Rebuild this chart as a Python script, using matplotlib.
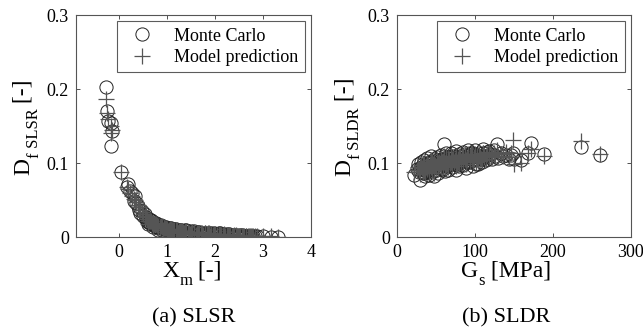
import matplotlib
matplotlib.use("Agg")
import matplotlib.pyplot as plt

plt.rcParams['font.family'] = ['Liberation Serif', 'DejaVu Serif']

# ---- (a) SLSR ----
xm = [-0.27, -0.25, -0.23, -0.17, -0.15, -0.17, 0.04, 0.17, 0.19, 0.22, 0.27, 0.30, 0.33,
      0.36, 0.40, 0.42, 0.44, 0.47, 0.50, 0.53, 0.55, 0.58, 0.62, 0.65, 0.68, 0.72, 0.75,
      0.78, 0.82, 0.86, 0.90, 0.95, 1.00, 1.05, 1.10, 1.15, 1.20, 1.26, 1.32, 1.38, 1.44,
      1.50, 1.57, 1.64, 1.71, 1.78, 1.85, 1.92, 2.00, 2.08, 2.16, 2.24, 2.32, 2.40, 2.48,
      2.56, 2.64, 2.72, 2.80, 2.88, 3.00, 3.17, 3.31,
      0.60, 0.70, 0.80, 0.92, 1.02, 1.12, 1.22, 1.35, 1.47, 1.60, 1.75, 1.90, 2.05, 2.20,
      2.35, 2.50, 2.65, 2.78,
      0.56, 0.61, 0.66, 0.71, 0.76, 0.81, 0.87, 0.93, 0.98, 1.03, 1.08, 1.13, 1.18, 1.24,
      1.29, 1.34, 1.40, 1.46, 1.52, 1.55, 1.62, 1.67, 1.73, 1.80, 1.83, 1.88, 1.95, 1.98,
      2.03, 2.11, 2.13, 2.19, 2.27, 2.29, 2.37, 2.43, 2.45, 2.52, 2.58, 2.61, 2.68, 2.70,
      2.75, 2.83]
mc_slsr = [0.203, 0.170, 0.157, 0.154, 0.143, 0.123, 0.088, 0.067, 0.071, 0.062, 0.059, 0.049, 0.055,
           0.046, 0.042, 0.037, 0.033, 0.035, 0.029, 0.031, 0.025, 0.022, 0.024, 0.019, 0.021, 0.017, 0.015,
           0.018, 0.013, 0.015, 0.012, 0.014, 0.010, 0.012, 0.009, 0.011, 0.008, 0.010, 0.007, 0.009, 0.006,
           0.008, 0.005, 0.007, 0.005, 0.006, 0.004, 0.005, 0.004, 0.005, 0.003, 0.004, 0.003, 0.003, 0.002,
           0.003, 0.002, 0.002, 0.001, 0.001, 0.001, 0.000, 0.000,
           0.018, 0.013, 0.010, 0.008, 0.007, 0.006, 0.005, 0.004, 0.003, 0.003, 0.002, 0.002, 0.002, 0.001,
           0.001, 0.001, 0.001, 0.000,
           0.027, 0.020, 0.023, 0.016, 0.019, 0.012, 0.016, 0.011, 0.013, 0.009, 0.012, 0.008, 0.011, 0.007,
           0.009, 0.006, 0.009, 0.005, 0.007, 0.008, 0.004, 0.007, 0.004, 0.006, 0.003, 0.006, 0.003, 0.005,
           0.002, 0.005, 0.002, 0.004, 0.002, 0.004, 0.001, 0.003, 0.002, 0.003, 0.001, 0.002, 0.001, 0.002,
           0.001, 0.001]
model_slsr = [0.186, 0.168, 0.160, 0.150, 0.144, 0.140, 0.088, 0.068, 0.065, 0.060, 0.056, 0.052, 0.050,
              0.047, 0.043, 0.040, 0.037, 0.034, 0.031, 0.029, 0.027, 0.025, 0.022, 0.021, 0.019, 0.018, 0.017,
              0.016, 0.015, 0.014, 0.013, 0.012, 0.011, 0.011, 0.010, 0.009, 0.009, 0.008, 0.008, 0.007, 0.007,
              0.006, 0.006, 0.006, 0.005, 0.005, 0.005, 0.004, 0.004, 0.004, 0.003, 0.003, 0.003, 0.003, 0.002,
              0.002, 0.002, 0.002, 0.002, 0.001, 0.001, 0.001, 0.000,
              0.017, 0.014, 0.012, 0.010, 0.008, 0.007, 0.006, 0.005, 0.004, 0.003, 0.003, 0.002, 0.002, 0.001,
              0.001, 0.001, 0.001, 0.001,
              0.028, 0.022, 0.021, 0.018, 0.017, 0.013, 0.015, 0.012, 0.012, 0.010, 0.011, 0.009, 0.010, 0.008,
              0.008, 0.007, 0.008, 0.006, 0.007, 0.007, 0.005, 0.006, 0.005, 0.006, 0.004, 0.005, 0.003, 0.004,
              0.003, 0.004, 0.003, 0.004, 0.003, 0.003, 0.002, 0.003, 0.002, 0.002, 0.002, 0.002, 0.001, 0.002,
              0.001, 0.001]

# ---- (b) SLDR ----
gs = [22, 25, 27, 28, 30, 31, 32, 33, 34, 35, 36, 37, 38, 39, 40, 41, 42, 43, 44, 45, 46, 47, 48, 49,
      50, 51, 52, 53, 54, 55, 56, 57, 58, 59, 60, 61, 62, 63, 64, 65, 66, 67, 68, 69, 70, 71, 72, 73,
      74, 75, 76, 77, 78, 79, 80, 82, 84, 85, 87, 88, 90, 91, 93, 94, 96, 97, 99, 100, 102, 104, 105,
      107, 109, 110, 112, 114, 116, 118, 120, 122, 124, 126, 128, 130, 133, 136, 140, 143, 146, 149,
      150, 159, 168, 172, 188, 236, 260,
      29, 33, 36, 39, 42, 45, 48, 51, 54, 57, 60, 63, 66, 69, 72, 75, 78, 81, 84, 87, 90, 93, 96,
      99, 102, 106, 110, 114, 118, 35, 41, 47, 53, 59, 65, 71, 77, 83, 89, 95, 101, 108]
mc_sldr = [0.084, 0.092, 0.098, 0.088, 0.077, 0.101, 0.094, 0.086, 0.104, 0.091, 0.082, 0.097, 0.107,
           0.089, 0.095, 0.084, 0.102, 0.093, 0.109, 0.088, 0.099, 0.083, 0.105, 0.096, 0.091, 0.108,
           0.100, 0.087, 0.103, 0.095, 0.111, 0.092, 0.099, 0.106, 0.126, 0.089, 0.101, 0.113, 0.096,
           0.104, 0.090, 0.108, 0.098, 0.114, 0.102, 0.094, 0.110, 0.099, 0.105, 0.091, 0.116, 0.101,
           0.107, 0.096, 0.112, 0.103, 0.097, 0.115, 0.106, 0.093, 0.109, 0.118, 0.101, 0.112, 0.104,
           0.096, 0.110, 0.117, 0.105, 0.099, 0.113, 0.108, 0.102, 0.119, 0.110, 0.104, 0.115, 0.108,
           0.112, 0.105, 0.118, 0.110, 0.126, 0.107, 0.114, 0.109, 0.111, 0.106, 0.111, 0.113, 0.105,
           0.104, 0.113, 0.127, 0.112, 0.122, 0.111,
           0.093, 0.098, 0.090, 0.100, 0.096, 0.102, 0.094, 0.104, 0.098, 0.106, 0.100, 0.097, 0.103,
           0.099, 0.105, 0.108, 0.100, 0.109, 0.106, 0.112, 0.102, 0.108, 0.113, 0.105, 0.111, 0.107,
           0.114, 0.109, 0.116, 0.086, 0.091, 0.096, 0.094, 0.092, 0.108, 0.106, 0.097, 0.110, 0.103,
           0.114, 0.099, 0.105]
model_sldr = [0.088, 0.090, 0.094, 0.091, 0.085, 0.097, 0.093, 0.089, 0.099, 0.094, 0.087, 0.096, 0.101,
              0.092, 0.097, 0.088, 0.099, 0.095, 0.104, 0.091, 0.098, 0.087, 0.102, 0.097, 0.094, 0.104,
              0.100, 0.092, 0.101, 0.098, 0.106, 0.095, 0.101, 0.103, 0.110, 0.094, 0.100, 0.108, 0.099,
              0.103, 0.095, 0.105, 0.100, 0.109, 0.102, 0.098, 0.106, 0.101, 0.104, 0.096, 0.110, 0.102,
              0.105, 0.100, 0.108, 0.103, 0.101, 0.110, 0.105, 0.099, 0.107, 0.112, 0.103, 0.109, 0.105,
              0.101, 0.108, 0.112, 0.106, 0.103, 0.110, 0.107, 0.104, 0.114, 0.109, 0.106, 0.112, 0.109,
              0.111, 0.108, 0.114, 0.110, 0.117, 0.109, 0.112, 0.110, 0.115, 0.108, 0.113, 0.131, 0.098,
              0.100, 0.114, 0.119, 0.110, 0.130, 0.112,
              0.094, 0.097, 0.092, 0.098, 0.097, 0.101, 0.096, 0.103, 0.099, 0.105, 0.101, 0.099, 0.103,
              0.101, 0.105, 0.107, 0.102, 0.108, 0.106, 0.111, 0.104, 0.108, 0.112, 0.106, 0.110, 0.108,
              0.113, 0.110, 0.115, 0.089, 0.093, 0.097, 0.096, 0.095, 0.106, 0.105, 0.099, 0.109, 0.104,
              0.112, 0.102, 0.106]

legend_labels = ['Monte Carlo', 'Model prediction']

W, H = 643, 333
fig = plt.figure(figsize=(W / 100, H / 100), dpi=100)

axc = '#333333'
plus_c = '#555555'

def make_ax(px0, px1, py_top, py_bot):
    return fig.add_axes([px0 / W, 1 - py_bot / H, (px1 - px0) / W, (py_bot - py_top) / H])

ax1 = make_ax(76, 311, 15, 237)
ax2 = make_ax(397, 631, 15, 237)

for ax, x, mc, mdl in [(ax1, xm, mc_slsr, model_slsr), (ax2, gs, mc_sldr, model_sldr)]:
    ax.plot(x, mc, linestyle='none', marker='o', markersize=9.5, markerfacecolor='none',
            markeredgecolor='#222222', markeredgewidth=0.7, label=legend_labels[0])
    ax.plot(x, mdl, linestyle='none', marker='+', markersize=11.5, color=plus_c,
            markeredgewidth=0.9, label=legend_labels[1])
    ax.set_ylim(0, 0.3)
    ax.set_yticks([0, 0.1, 0.2, 0.3])
    ax.set_yticklabels(['0', '0.1', '0.2', '0.3'])
    ax.tick_params(direction='in', length=3, width=0.6, colors=axc, labelcolor='black',
                   labelsize=13, top=True, right=True, pad=5)
    for s in ax.spines.values():
        s.set_color('#555555')
        s.set_linewidth(0.8)
    leg = ax.legend(loc='upper right', fontsize=13, frameon=True, fancybox=False,
                    edgecolor='#333333', borderpad=0.35, handletextpad=0.8, labelspacing=0.25,
                    borderaxespad=0.35, handlelength=2.0)
    leg.get_frame().set_linewidth(0.8)

ax1.set_xlim(-0.9, 4)
ax1.set_xticks([0, 1, 2, 3, 4])
ax2.set_xlim(0, 300)
ax2.set_xticks([0, 100, 200, 300])

fig.canvas.draw()
renderer = fig.canvas.get_renderer()


def piece_label(cx, cy, pieces, rotation=0):
    """pieces: list of (text, fontsize, drop_px). cx, cy: centre in pixel coords (from top)."""
    arts = []
    widths = []
    for txt, fs, drop in pieces:
        t = fig.text(0, 0, txt, fontsize=fs, ha='left', va='baseline')
        bb = t.get_window_extent(renderer)
        widths.append(bb.width)
        arts.append((t, drop))
    total = sum(widths)
    adv = -total / 2
    for (t, drop), w in zip(arts, widths):
        if rotation == 0:
            px = cx + adv
            py = (H - cy) - drop
        else:
            px = cx + drop
            py = (H - cy) + adv
            t.set_rotation(90)
            t.set_rotation_mode('anchor')
        t.set_position((px / W, py / H))
        adv += w


# x labels (baseline positions)
piece_label(192, 277, [('X', 17, 0), ('m', 12, 8), (' [-]', 17, 0)])
piece_label(506, 277, [('G', 17, 0), ('s', 12, 8), (' [MPa]', 17, 0)])
# y labels (baseline x position)
piece_label(29, 127, [('D', 17, 0), ('f', 12, 9), (' SLSR', 12, 9), (' [-]', 17, 0)], rotation=90)
piece_label(350, 127, [('D', 17, 0), ('f', 12, 9), (' SLDR', 12, 9), (' [-]', 17, 0)], rotation=90)

fig.text(194 / W, 1 - 322 / H, '(a) SLSR', fontsize=16, ha='center', va='baseline')
fig.text(506 / W, 1 - 322 / H, '(b) SLDR', fontsize=16, ha='center', va='baseline')

fig.savefig('out.png', dpi=100)
